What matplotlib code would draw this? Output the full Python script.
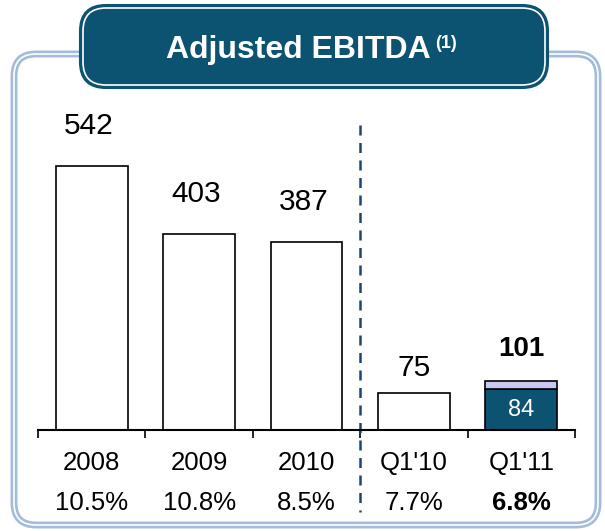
import numpy as np
import matplotlib
matplotlib.use("Agg")
import matplotlib.pyplot as plt
from matplotlib.patches import FancyBboxPatch
import matplotlib.transforms as mtrans

plt.rcParams["font.family"] = ["Liberation Sans", "DejaVu Sans"]

# data
categories = ["2008", "2009", "2010", "Q1'10", "Q1'11"]
ebitda = [542, 403, 387, 75, 101]
q111_base = 84
margins = ["10.5%", "10.8%", "8.5%", "7.7%", "6.8%"]

TEAL = "#0b5370"
LAVENDER = "#c9c7f3"
FRAME = "#a3bcd9"

W, H = 605, 531
fig = plt.figure(figsize=(W / 100, H / 100), dpi=100)

# background layer in pixel coords (y down)
bg = fig.add_axes([0, 0, 1, 1])
bg.set_xlim(0, W)
bg.set_ylim(H, 0)
bg.axis("off")

# double-line frame
outer = FancyBboxPatch((14, 54), 584, 471, boxstyle="round,pad=0,rounding_size=22",
                       fc="none", ec=FRAME, lw=5)
bg.add_patch(outer)
inner = FancyBboxPatch((14, 54), 584, 471, boxstyle="round,pad=0,rounding_size=22",
                       fc="none", ec="white", lw=1.2)
bg.add_patch(inner)

# title box
title_box = FancyBboxPatch((80, 5), 468, 83, boxstyle="round,pad=0,rounding_size=26",
                           fc=TEAL, ec=TEAL, lw=1.5)
bg.add_patch(title_box)
title_inner = FancyBboxPatch((83, 8), 462, 77, boxstyle="round,pad=0,rounding_size=23",
                             fc="none", ec="white", lw=1.2)
bg.add_patch(title_inner)
bg.text(298, 50, "Adjusted EBITDA", color="white", fontsize=23, fontweight="bold",
        ha="center", va="center")
bg.text(435, 43, "(1)", color="white", fontsize=13, fontweight="bold",
        ha="left", va="center")

# chart axes
base_px, top_px = 430, 60
ax = fig.add_axes([38 / W, (H - base_px) / H, (575 - 38) / W, (base_px - top_px) / H])
ax.set_xlim(-0.5, 4.5)
ax.set_ylim(0, (base_px - top_px) / 0.487)
ax.patch.set_alpha(0)
for s in ["left", "right", "top"]:
    ax.spines[s].set_visible(False)
ax.spines["bottom"].set_linewidth(1.5)
ax.set_yticks([])
ax.set_xticks(np.arange(-0.5, 5, 1))
ax.tick_params(axis="x", direction="out", length=6, width=1.2, labelbottom=False)

x = np.arange(len(categories))
bw = 0.67
ax.bar(x[:4], ebitda[:4], width=bw, color="white", edgecolor="black", linewidth=1.2)
ax.bar(x[4], q111_base, width=bw, color=TEAL, edgecolor="black", linewidth=1.2)
ax.bar(x[4], ebitda[4] - q111_base, bottom=q111_base, width=bw, color=LAVENDER,
       edgecolor="black", linewidth=1.2)

# value labels
offsets = [40, 40, 40, 25, 32]
for i, v in enumerate(ebitda):
    bold = i == 4
    ax.annotate(str(v), (x[i], v), xytext=(-2 if i < 3 else 0, offsets[i] * 0.72),
                textcoords="offset points", ha="center", va="center",
                fontsize=21.5 if not bold else 20, fontweight="bold" if bold else "normal")
ax.text(x[4], q111_base / 2, str(q111_base), color="white", fontsize=17,
        ha="center", va="center")

# category and margin labels
for i, (c, m) in enumerate(zip(categories, margins)):
    bold = i == 4
    ax.annotate(c, (x[i], 0), xycoords=("data", "axes fraction"), xytext=(0, -33 * 0.72),
                textcoords="offset points", ha="center", va="center", fontsize=18.5,
                annotation_clip=False)
    ax.annotate(m, (x[i], 0), xycoords=("data", "axes fraction"), xytext=(0, -73 * 0.72),
                textcoords="offset points", ha="center", va="center", fontsize=18.5,
                fontweight="bold" if bold else "normal", annotation_clip=False)

# dashed separator
trans = mtrans.blended_transform_factory(ax.transData, ax.transAxes)
ax.plot([2.5, 2.5], [(base_px - 125) / (base_px - top_px), (base_px - 512) / (base_px - top_px)],
        transform=trans, clip_on=False, color="#1a4575", lw=1.8, dashes=(4, 3))

fig.savefig("out.png", dpi=100)
